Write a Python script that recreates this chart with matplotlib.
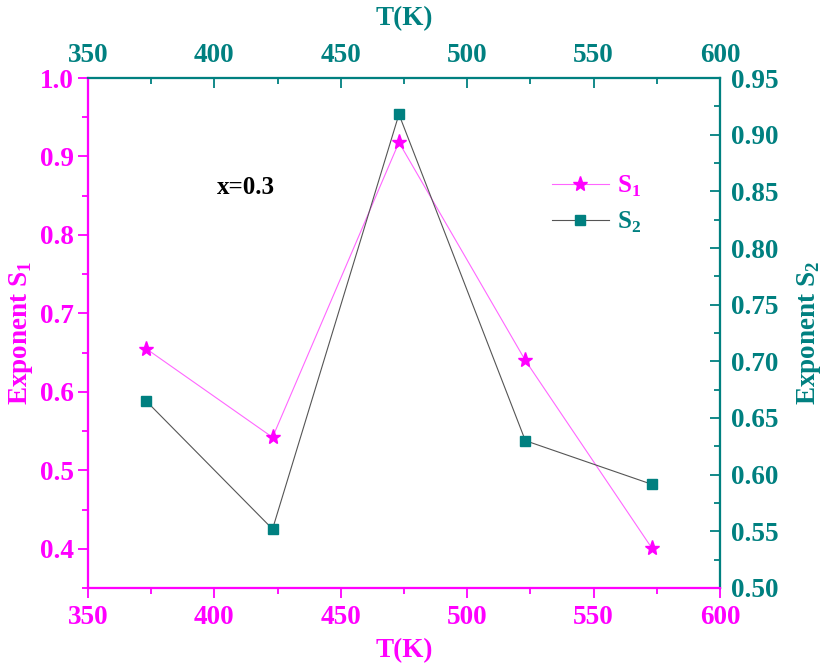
import matplotlib
matplotlib.use("Agg")
import matplotlib.pyplot as plt
from matplotlib.ticker import MultipleLocator, FormatStrFormatter

# Temperature (K) and the two exponents
temperature = [373, 423, 473, 523, 573]
s1_values = [0.655, 0.542, 0.918, 0.640, 0.401]
s2_values = [0.665, 0.552, 0.918, 0.630, 0.5915]

MAGENTA = "#FF00FF"
TEAL = "#008080"
plt.rcParams["font.family"] = ["Liberation Serif", "DejaVu Serif"]
plt.rcParams["font.weight"] = "bold"
plt.rcParams["mathtext.fontset"] = "custom"
plt.rcParams["mathtext.rm"] = "Liberation Serif:bold"
plt.rcParams["mathtext.bf"] = "Liberation Serif:bold"

FS = 19.5

fig = plt.figure(figsize=(8.24, 6.68), dpi=100)
ax = fig.add_axes([0.1068, 0.1198, 0.767, 0.7634])
ax2 = ax.twinx()
ax3 = ax.twiny()

ln1, = ax.plot(temperature, s1_values, color="#FF66FF", lw=0.8,
               marker="*", ms=11, mfc=MAGENTA, mec=MAGENTA, zorder=3)
ln2, = ax2.plot(temperature, s2_values, color="#555555", lw=0.8,
                marker="s", ms=7.5, mfc=TEAL, mec=TEAL, zorder=3)

ax.set_xlim(350, 600)
ax3.set_xlim(350, 600)
ax.set_ylim(0.35, 1.0)
ax2.set_ylim(0.50, 0.95)

for a in (ax, ax3):
    a.xaxis.set_major_locator(MultipleLocator(50))
    a.xaxis.set_minor_locator(MultipleLocator(25))
ax.yaxis.set_major_locator(MultipleLocator(0.1))
ax.yaxis.set_minor_locator(MultipleLocator(0.05))
ax2.yaxis.set_major_locator(MultipleLocator(0.05))
ax2.yaxis.set_minor_locator(MultipleLocator(0.025))
ax.yaxis.set_major_formatter(FormatStrFormatter("%.1f"))
ax2.yaxis.set_major_formatter(FormatStrFormatter("%.2f"))

# spines: magenta for S1 (left/bottom), teal for S2 (right/top)
for a in (ax, ax2, ax3):
    for name, s in a.spines.items():
        s.set_linewidth(1.5)
        s.set_color(MAGENTA if name in ("left", "bottom") else TEAL)

ax.tick_params(axis="x", which="major", direction="out", length=7, width=1.3,
               colors=MAGENTA, labelsize=FS, pad=5)
ax.tick_params(axis="x", which="minor", direction="out", length=4, width=1.3,
               colors=MAGENTA)
ax.tick_params(axis="y", which="major", direction="out", length=7, width=1.3,
               colors=MAGENTA, labelsize=FS, pad=3)
ax.tick_params(axis="y", which="minor", direction="out", length=4, width=1.3,
               colors=MAGENTA)
ax2.tick_params(axis="y", which="major", direction="in", length=7, width=1.3,
                colors=TEAL, labelsize=FS, pad=8)
ax2.tick_params(axis="y", which="minor", direction="in", length=4, width=1.3,
                colors=TEAL)
ax3.tick_params(axis="x", which="major", direction="in", length=7, width=1.3,
                colors=TEAL, labelsize=FS, pad=7)
ax3.tick_params(axis="x", which="minor", direction="in", length=4, width=1.3,
                colors=TEAL)

ax3.set_xlabel("T(K)", color=TEAL, fontsize=FS, fontweight="bold", labelpad=13)
ax.set_xlabel("T(K)", color=MAGENTA, fontsize=FS, fontweight="bold", labelpad=6)
ax.set_ylabel("Exponent S$_1$", color=MAGENTA, fontsize=FS, fontweight="bold",
              labelpad=4)
ax2.set_ylabel("Exponent S$_2$", color=TEAL, fontsize=FS, fontweight="bold",
               labelpad=12)

ax.text(0.25, 0.786, "x=0.3", transform=ax.transAxes, fontsize=18,
        fontweight="bold", color="black", ha="center", va="center")

leg = ax.legend([ln1, ln2], ["S$_1$", "S$_2$"], loc="upper left",
                bbox_to_anchor=(0.698, 0.857), frameon=False, fontsize=18,
                handlelength=2.3, handletextpad=0.3, labelspacing=0.45)
leg.get_texts()[0].set_color(MAGENTA)
leg.get_texts()[1].set_color(TEAL)

fig.savefig("out.png", dpi=100)
